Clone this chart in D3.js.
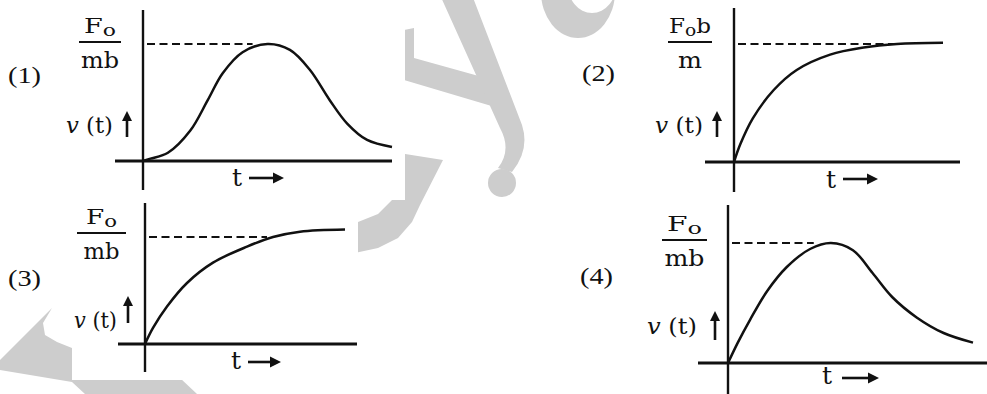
<!DOCTYPE html>
<html>
<head>
<meta charset="utf-8">
<style>
  body { margin: 0; background: #fff; }
  svg { display: block; }
  .lbl { font-family: "DejaVu Serif", serif; fill: #111; }
  .opt { font-family: "Liberation Serif", serif; fill: #111; }
</style>
</head>
<body>
<svg></svg>
<script src="https://cdnjs.cloudflare.com/ajax/libs/d3/7.8.5/d3.min.js"></script>
<script>
const width = 987, height = 394;

// option numbers and the label at the dashed level
const optionLabels = ["(1)", "(2)", "(3)", "(4)"];
const numerTail = ["", "b", "", ""];          // text after F_o
const denomLabels = ["mb", "m", "mb", "mb"];

// curves: t on 0..10, v as a fraction of the dashed level
const t1 = [0, 0.3, 1.0, 1.9, 2.6, 3.2, 4.0, 5.0, 5.9, 6.7, 7.5, 8.2, 9.0, 10];
const v1 = [0, 0.02, 0.07, 0.26, 0.52, 0.75, 0.93, 1.0, 0.95, 0.78, 0.52, 0.32, 0.18, 0.12];
const t2 = [0, 0.3, 0.9, 1.9, 3.0, 4.6, 6.2, 7.8, 10];
const v2 = [0, 0.15, 0.37, 0.61, 0.78, 0.91, 0.97, 1.0, 1.01];
const t3 = [0, 0.4, 1.1, 2.1, 3.4, 5.1, 6.4, 7.75, 10];
const v3 = [0, 0.15, 0.35, 0.57, 0.76, 0.91, 1.0, 1.05, 1.07];
const t4 = [0, 0.4, 0.9, 1.6, 2.4, 3.35, 4.2, 5.1, 5.9, 6.7, 7.7, 8.8, 10];
const v4 = [0, 0.17, 0.36, 0.6, 0.8, 0.95, 1.0, 0.94, 0.75, 0.55, 0.38, 0.25, 0.17];
const curveT = [t1, t2, t3, t4];
const curveV = [v1, v2, v3, v4];
// where the dashed line stops (t)
const dashEnd = [4.4, 7.9, 6.1, 3.5];

// layout of each small graph (pixels)
const panels = [
  { ox: 143, oy: 161, w: 249, h: 117, yTop: 10, yBot: 190, xLeft: 115, xRight: 392,
    opt: [8, 83], frac: [79, 121, 42], numW: 32, denW: 38,
    vt: [66, 113, 133], up: [127, 137, 111], tl: [232, 186], ta: [249, 284, 178] },
  { ox: 734, oy: 162, w: 209, h: 118, yTop: 8, yBot: 192, xLeft: 705, xRight: 960,
    opt: [582, 81], frac: [668, 712, 42], numW: 42, denW: 24,
    vt: [655, 703, 133], up: [717, 137, 111], tl: [826, 188], ta: [843, 878, 179] },
  { ox: 145, oy: 344, w: 200, h: 107, yTop: 203, yBot: 372, xLeft: 118, xRight: 357,
    opt: [8, 286], frac: [77, 126, 233], numW: 31, denW: 36,
    vt: [74, 117, 328], up: [128, 323, 296], tl: [231, 369], ta: [248, 281, 362] },
  { ox: 728, oy: 363, w: 245, h: 120, yTop: 205, yBot: 394, xLeft: 698, xRight: 987,
    opt: [580, 284], frac: [662, 707, 240], numW: 35, denW: 40,
    vt: [647, 697, 334], up: [715, 340, 311], tl: [822, 384], ta: [842, 879, 378] }
];

const svg = d3.select("svg").attr("width", width).attr("height", height);
svg.append("rect").attr("width", width).attr("height", height).attr("fill", "#fff");

// faint watermark behind the graphs
const wm = svg.append("g").attr("fill", "#cdcdcd");
wm.append("path").attr("d", "M0,360 L52,308 L43,323 L45,335 L57,342 L72,348 L180,378 L197,394 L85,394 L72,382 L0,370 Z");
wm.append("path").attr("d", "M380,150 L443,160 L420,205 L412,222 L398,238 L378,248 L350,254 L330,256 L330,222 L358,222 L378,214 L392,200 L398,185 L380,180 Z");
wm.append("path").attr("d", "M404,30 L414,28 L414,58 L493,80 L505,110 L404,80 Z");
wm.append("path").attr("d", "M440,-5 L472,-5 L522,125 Q530,150 512,172 L498,168 Q512,150 500,128 Z");
wm.append("circle").attr("cx", 502).attr("cy", 183).attr("r", 14);
wm.append("path").attr("fill-rule", "evenodd")
  .attr("d", "M541,-8 A37,46 0 1,0 615,-8 A37,46 0 1,0 541,-8 Z M567,-18 A25,31 0 1,0 617,-18 A25,31 0 1,0 567,-18 Z");

// white paper of the pasted graphs
svg.append("rect").attr("x", 0).attr("y", 0).attr("width", 405).attr("height", 200).attr("fill", "#fff");
svg.append("rect").attr("x", 72).attr("y", 200).attr("width", 286).attr("height", 180).attr("fill", "#fff");

const ink = "#111";

function arrowUp(g, x, y1, y2) {
  g.append("line").attr("x1", x).attr("x2", x).attr("y1", y1).attr("y2", y2 + 6)
    .attr("stroke", ink).attr("stroke-width", 2.6);
  g.append("path").attr("d", `M${x - 5},${y2 + 10} L${x},${y2} L${x + 5},${y2 + 10} Z`).attr("fill", ink);
}
function arrowRight(g, x1, x2, y) {
  g.append("line").attr("x1", x1).attr("x2", x2 - 6).attr("y1", y).attr("y2", y)
    .attr("stroke", ink).attr("stroke-width", 2.6);
  g.append("path").attr("d", `M${x2 - 11},${y - 5.5} L${x2},${y} L${x2 - 11},${y + 5.5} Z`).attr("fill", ink);
}

panels.forEach((p, i) => {
  const g = svg.append("g");
  const x = d3.scaleLinear().domain([0, 10]).range([p.ox, p.ox + p.w]);
  const y = d3.scaleLinear().domain([0, 1]).range([p.oy, p.oy - p.h]);

  // axes
  g.append("line").attr("x1", x(0)).attr("x2", x(0)).attr("y1", p.yTop).attr("y2", p.yBot)
    .attr("stroke", ink).attr("stroke-width", 2.4);
  g.append("line").attr("x1", p.xLeft).attr("x2", p.xRight).attr("y1", y(0)).attr("y2", y(0))
    .attr("stroke", ink).attr("stroke-width", 2.8);

  // dashed level
  g.append("line").attr("x1", x(0) + 4).attr("x2", x(dashEnd[i])).attr("y1", y(1)).attr("y2", y(1))
    .attr("stroke", ink).attr("stroke-width", 2.2).attr("stroke-dasharray", "8,4.5");

  // curve
  const pts = d3.zip(curveT[i], curveV[i]);
  const line = d3.line().x(d => x(d[0])).y(d => y(d[1])).curve(d3.curveCatmullRom.alpha(0.5));
  g.append("path").datum(pts).attr("d", line)
    .attr("fill", "none").attr("stroke", ink).attr("stroke-width", 2.5);

  // option number
  g.append("text").attr("class", "opt").attr("x", p.opt[0]).attr("y", p.opt[1])
    .attr("font-size", 24).attr("textLength", 33).attr("lengthAdjust", "spacingAndGlyphs")
    .text(optionLabels[i]);

  // fraction label
  const [fx1, fx2, fy] = p.frac, fc = (fx1 + fx2) / 2;
  g.append("line").attr("x1", fx1).attr("x2", fx2).attr("y1", fy).attr("y2", fy)
    .attr("stroke", ink).attr("stroke-width", 2.2);
  const num = g.append("text").attr("class", "lbl").attr("x", fc - p.numW / 2).attr("y", fy - 9)
    .attr("font-size", 21).attr("textLength", p.numW).attr("lengthAdjust", "spacingAndGlyphs");
  num.append("tspan").text("F");
  num.append("tspan").attr("font-size", 17).attr("dy", 3).text("o");
  if (numerTail[i]) num.append("tspan").attr("dy", -3).text(numerTail[i]);
  g.append("text").attr("class", "lbl").attr("x", fc - p.denW / 2).attr("y", fy + 26)
    .attr("font-size", 22).attr("textLength", p.denW).attr("lengthAdjust", "spacingAndGlyphs")
    .text(denomLabels[i]);

  // v (t) with arrow
  const vt = g.append("text").attr("class", "lbl").attr("x", p.vt[0]).attr("y", p.vt[2])
    .attr("font-size", 23).attr("textLength", p.vt[1] - p.vt[0]).attr("lengthAdjust", "spacingAndGlyphs");
  vt.append("tspan").attr("font-style", "italic").text("v");
  vt.append("tspan").text(" (t)");
  arrowUp(g, p.up[0], p.up[1], p.up[2]);

  // t with arrow
  g.append("text").attr("class", "lbl").attr("x", p.tl[0]).attr("y", p.tl[1])
    .attr("font-size", 25).text("t");
  arrowRight(g, p.ta[0], p.ta[1], p.ta[2]);
});
</script>
</body>
</html>
